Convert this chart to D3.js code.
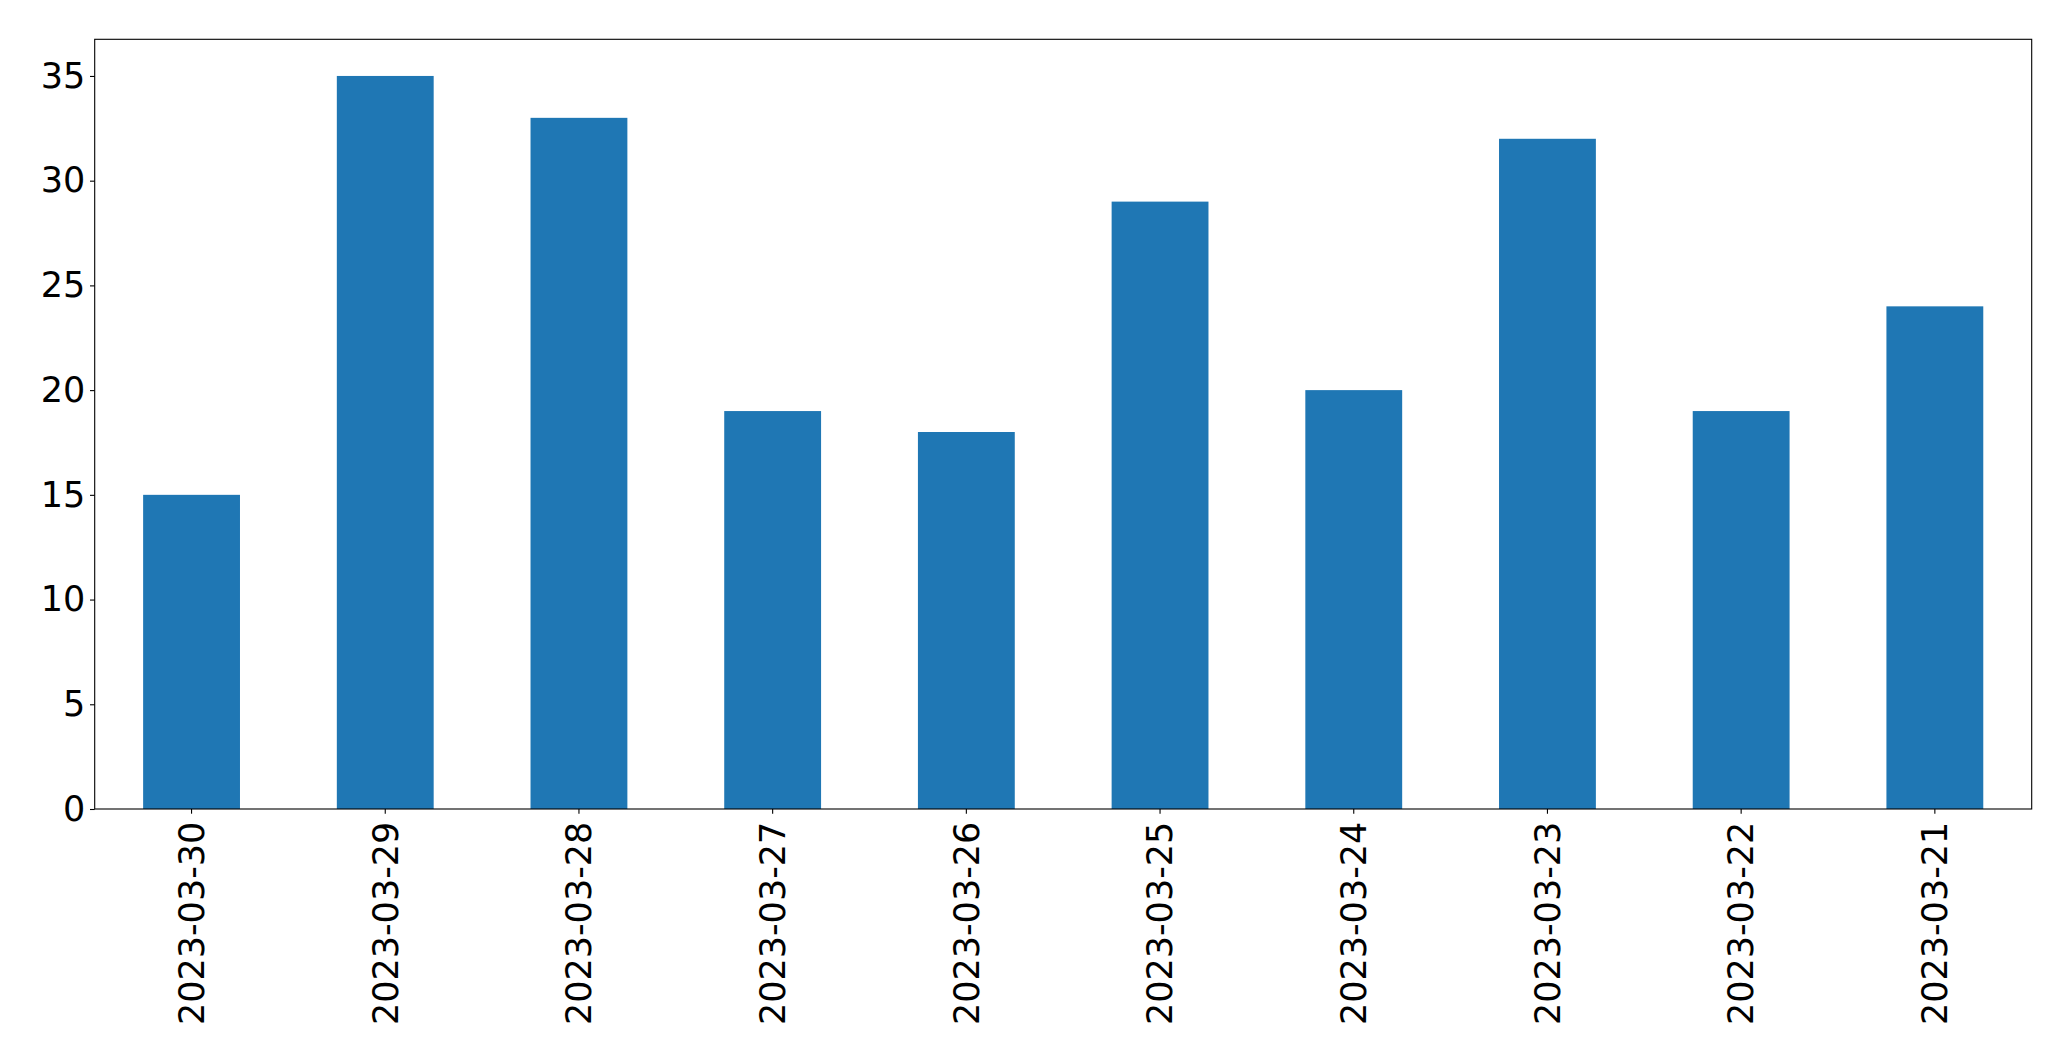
<!DOCTYPE html>
<html>
<head>
<meta charset="utf-8">
<script src="https://cdn.jsdelivr.net/npm/d3@7"></script>
<style>
  body { margin: 0; background: #fff; }
  svg { display: block; font-family: "DejaVu Sans", sans-serif; }
</style>
</head>
<body>
<svg width="2071" height="1061"></svg>
<script>
// data
var dates = ["2023-03-30", "2023-03-29", "2023-03-28", "2023-03-27", "2023-03-26",
             "2023-03-25", "2023-03-24", "2023-03-23", "2023-03-22", "2023-03-21"];
var counts = [15, 35, 33, 19, 18, 29, 20, 32, 19, 24];
var yTicks = [0, 5, 10, 15, 20, 25, 30, 35];

var svg = d3.select("svg");
var margin = {left: 94.7, right: 2071 - 2031.7, top: 39.3, bottom: 1061 - 809};
var w = 2071 - margin.left - margin.right,
    h = 1061 - margin.top - margin.bottom;

var g = svg.append("g").attr("transform", "translate(" + margin.left + "," + margin.top + ")");

var x = d3.scaleBand().domain(dates).range([0, w]).paddingInner(0.5).paddingOuter(0.25);
var y = d3.scaleLinear().domain([0, d3.max(counts) * 1.05]).range([h, 0]);

// bars
g.selectAll("rect.bar")
    .data(counts)
    .enter().append("rect")
    .attr("class", "bar")
    .attr("x", function(d, i) { return x(dates[i]); })
    .attr("y", function(d) { return y(d); })
    .attr("width", x.bandwidth())
    .attr("height", function(d) { return h - y(d); })
    .attr("fill", "#1f77b4");

var tickLen = 4.7, fontSize = 35;

// y axis
var yAxis = g.append("g")
    .call(d3.axisLeft(y).tickValues(yTicks).tickSize(tickLen).tickPadding(4.7).tickFormat(d3.format("d")));
yAxis.select(".domain").remove();
yAxis.selectAll("text").attr("font-size", fontSize).attr("font-family", "DejaVu Sans").attr("fill", "#000");
yAxis.selectAll("line").attr("stroke", "#000").attr("stroke-width", 1.1);

// x axis
var xAxis = g.append("g")
    .attr("transform", "translate(0," + h + ")")
    .call(d3.axisBottom(x).tickSize(tickLen).tickPadding(4.7));
xAxis.select(".domain").remove();
xAxis.selectAll("line").attr("stroke", "#000").attr("stroke-width", 1.1);
xAxis.selectAll("text")
    .attr("font-size", fontSize)
    .attr("font-family", "DejaVu Sans")
    .attr("fill", "#000")
    .attr("text-anchor", "end")
    .attr("dy", "0.35em")
    .attr("transform", "rotate(-90)")
    .attr("x", -(tickLen + 8))
    .attr("y", 0);

// frame
g.append("rect")
    .attr("width", w).attr("height", h)
    .attr("fill", "none").attr("stroke", "#000").attr("stroke-width", 1.1);
</script>
</body>
</html>
